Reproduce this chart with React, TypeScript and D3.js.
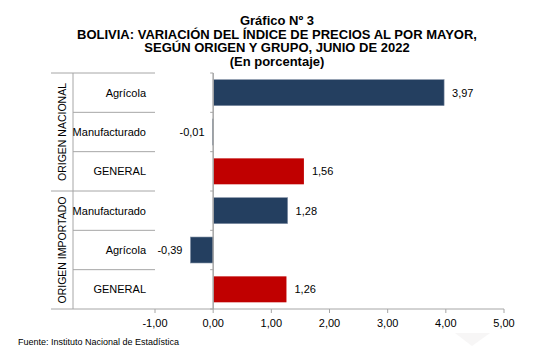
import React from 'react';
import * as d3 from 'd3';

const groups = ['ORIGEN NACIONAL', 'ORIGEN IMPORTADO'];
const categories = ['Agrícola', 'Manufacturado', 'GENERAL', 'Manufacturado', 'Agrícola', 'GENERAL'];
const values = [3.97, -0.01, 1.56, 1.28, -0.39, 1.26];
const isTotal = [false, false, true, false, false, true];
const xTicks = [-1, 0, 1, 2, 3, 4, 5];
const titleLines = [
  'Gráfico Nº 3',
  'BOLIVIA: VARIACIÓN DEL ÍNDICE DE PRECIOS AL POR MAYOR,',
  'SEGÚN ORIGEN Y GRUPO, JUNIO DE 2022',
  '(En porcentaje)'
];
const source = 'Fuente: Instituto Nacional de Estadística';

const W = 544;
const H = 350;
const NAVY = '#243F60';
const RED = '#C00000';
const LINE = '#a6a6a6';
const FONT = 'Liberation Sans, Arial, sans-serif';

const fmt = (v: number) => v.toFixed(2).replace('.', ',');

const App: React.FC = () => {
  const plotTop = 73;
  const plotBottom = 309;
  const tableLeft = 51;
  const groupRight = 73;
  const catRight = 155;

  const x = d3.scaleLinear().domain([-1, 5]).range([155, 504]);
  const y = d3
    .scaleBand<number>()
    .domain(d3.range(categories.length))
    .range([plotTop, plotBottom])
    .paddingInner(0.34)
    .paddingOuter(0.17);
  const step = y.step();
  const x0 = x(0);

  // row boundaries (table lines and y-axis ticks)
  const bounds = d3.range(categories.length + 1).map(i => plotTop + i * step);

  return (
    <svg
      width={W}
      height={H}
      style={{ position: 'absolute', left: 0, top: 0, background: '#fff' }}
      fontFamily={FONT}
    >
      {/* faint watermark */}
      <path d="M455,333 L490,333 L472,346 Z" fill="#f7f6f6" />

      {/* title */}
      {titleLines.map((t, i) => (
        <text
          key={i}
          x={W / 2 + 5}
          y={25 + i * 13.6}
          textAnchor="middle"
          fontSize={13}
          fontWeight="bold"
          fill="#000"
        >
          {t}
        </text>
      ))}

      {/* table lines */}
      <line x1={tableLeft} x2={catRight} y1={plotTop} y2={plotTop} stroke={LINE} />
      <line x1={tableLeft} x2={catRight} y1={bounds[3]} y2={bounds[3]} stroke={LINE} />
      <line x1={tableLeft} x2={x(5)} y1={plotBottom} y2={plotBottom} stroke={LINE} />
      <line x1={groupRight} x2={groupRight} y1={plotTop} y2={plotBottom} stroke={LINE} />
      {[1, 2, 4, 5].map(i => (
        <line key={i} x1={groupRight} x2={catRight} y1={bounds[i]} y2={bounds[i]} stroke={LINE} />
      ))}

      {/* group labels */}
      {groups.map((g, gi) => {
        const cy = (bounds[gi * 3] + bounds[gi * 3 + 3]) / 2;
        return (
          <text
            key={g}
            transform={`translate(62,${cy}) rotate(-90)`}
            textAnchor="middle"
            dominantBaseline="central"
            fontSize={10.5}
            fill="#000"
          >
            {g}
          </text>
        );
      })}

      {/* category labels */}
      {categories.map((c, i) => (
        <text
          key={i}
          x={146}
          y={(y(i) as number) + y.bandwidth() / 2}
          textAnchor="end"
          dominantBaseline="central"
          fontSize={11}
          fill="#000"
        >
          {c}
        </text>
      ))}

      {/* bars */}
      {values.map((v, i) => (
        <rect
          key={i}
          x={Math.min(x(v), x0)}
          y={y(i)}
          width={Math.max(Math.abs(x(v) - x0), 0.8)}
          height={y.bandwidth()}
          fill={isTotal[i] ? RED : NAVY}
          stroke={isTotal[i] ? 'none' : '#7f8ea3'}
          strokeWidth={0.6}
        />
      ))}

      {/* value labels */}
      {values.map((v, i) => (
        <text
          key={i}
          x={v >= 0 ? x(v) + 8 : x(v) - 8}
          y={(y(i) as number) + y.bandwidth() / 2}
          textAnchor={v >= 0 ? 'start' : 'end'}
          dominantBaseline="central"
          fontSize={11}
          fill="#000"
        >
          {fmt(v)}
        </text>
      ))}

      {/* y axis */}
      <line x1={x0} x2={x0} y1={plotTop} y2={plotBottom} stroke={LINE} strokeWidth={1.5} />
      {bounds.map((b, i) => (
        <line key={i} x1={x0 - 3} x2={x0} y1={b} y2={b} stroke={LINE} />
      ))}

      {/* x axis */}
      {xTicks.map(t => (
        <g key={t}>
          <line x1={x(t)} x2={x(t)} y1={plotBottom} y2={plotBottom + 4} stroke={LINE} />
          <text
            x={x(t)}
            y={plotBottom + 14}
            textAnchor="middle"
            dominantBaseline="central"
            fontSize={11}
            fill="#000"
          >
            {fmt(t)}
          </text>
        </g>
      ))}

      {/* source */}
      <text x={18} y={345} fontSize={9} fill="#000">
        {source}
      </text>
    </svg>
  );
};

export default App;
